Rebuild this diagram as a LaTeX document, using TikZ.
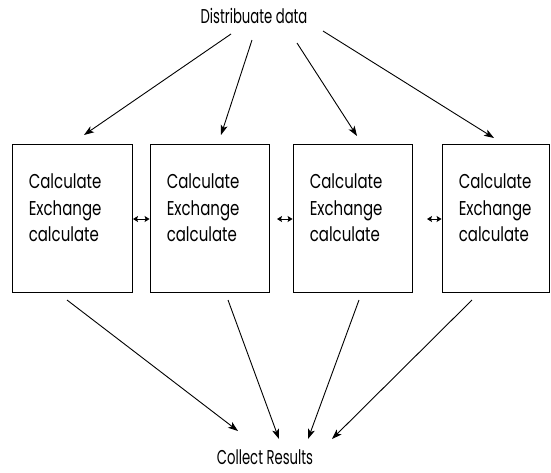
\documentclass[tikz,border=0pt]{standalone}
\usepackage{fontspec}
\setmainfont[FakeStretch=0.75]{Poppins}
\newfontfamily\capfont[FakeStretch=0.66]{Poppins}
\usetikzlibrary{arrows.meta}

\begin{document}
\begin{tikzpicture}[x=1pt,y=-1pt,
  box/.style={draw, line width=0.9pt, minimum height=148pt, inner sep=0pt},
  boxtext/.style={anchor=north west, align=left, inner sep=0pt,
    font=\fontsize{20}{26.5}\selectfont},
  caption/.style={inner sep=0pt, font=\capfont\fontsize{20}{24}\selectfont},
  flow/.style={-{Stealth[length=10pt,width=7pt,inset=2.5pt]}, line width=0.9pt},
  swap/.style={{Stealth[length=5pt,width=6pt,inset=1pt]}-{Stealth[length=5pt,width=6pt,inset=1pt]}, line width=0.9pt}]
\useasboundingbox (0,0) rectangle (551,472);

% titles
\node[caption] (dist) at (254,16) {Distribuate data};
\node[caption] (coll) at (265,457) {Collect Results};

% worker boxes
\node[box, minimum width=120pt] (b1) at (72,218) {};
\node[box, minimum width=119pt] (b2) at (209.5,218) {};
\node[box, minimum width=119pt] (b3) at (352.5,218) {};
\node[box, minimum width=107pt] (b4) at (495.5,218) {};

% box contents
\foreach \b in {b1,b2,b3,b4}
  \node[boxtext] (\b t) at ([xshift=17pt,yshift=-30pt]\b.north west)
    {Calculate\\Exchange\\calculate};

% exchange arrows between neighbours
\coordinate (x1) at (133,219);
\coordinate (x2) at (277,219);
\coordinate (x3) at (427,219);
\draw[swap] (x1) -- (b2.west |- x1);
\draw[swap] (x2) -- (b3.west |- x2);
\draw[swap] (x3) -- (b4.west |- x3);

% distribution arrows
\coordinate (s1) at (231,34);  \coordinate (e1) at (84,135);
\coordinate (s2) at (252,40);  \coordinate (e2) at (221,135);
\coordinate (s3) at (297,43);  \coordinate (e3) at (357,136);
\coordinate (s4) at (323,31);  \coordinate (e4) at (494,138);
\foreach \i in {1,...,4} \draw[flow] (s\i) -- (e\i);

% collection arrows
\coordinate (c1) at (67,300);  \coordinate (r1) at (238,431);
\coordinate (c2) at (228,300); \coordinate (r2) at (279,439);
\coordinate (c3) at (359,300); \coordinate (r3) at (308,439);
\coordinate (c4) at (472,300); \coordinate (r4) at (332,439);
\foreach \i in {1,...,4} \draw[flow] (c\i) -- (r\i);
\end{tikzpicture}
\end{document}
